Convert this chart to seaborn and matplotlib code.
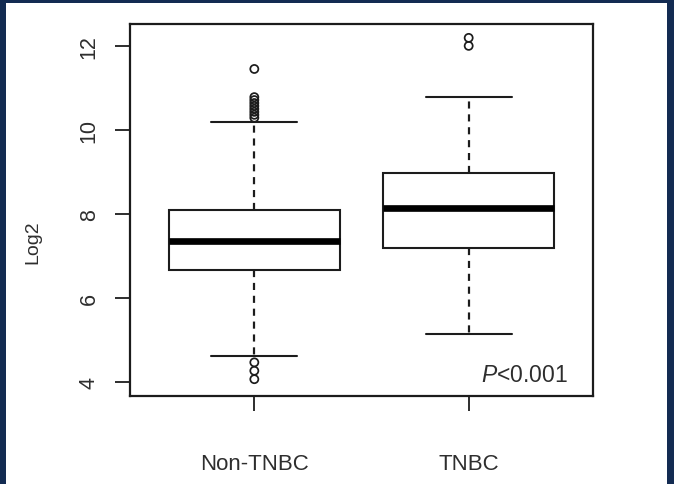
import matplotlib
matplotlib.use("Agg")
import matplotlib.pyplot as plt
import seaborn as sns
import pandas as pd
from matplotlib.patches import Rectangle

# ---- data ----
categories = ["Non-TNBC", "TNBC"]
# five-number summary per group: lower whisker, Q1, median, Q3, upper whisker
non_tnbc_summary = [4.62, 6.67, 7.36, 8.10, 10.19]
tnbc_summary = [5.14, 7.19, 8.14, 8.98, 10.79]
# outlying points
non_tnbc_outliers = [4.07, 4.27, 4.47, 10.29, 10.36, 10.43, 10.50,
                     10.57, 10.64, 10.71, 10.78, 11.45]
tnbc_outliers = [12.00, 12.19]
y_ticks = [4, 6, 8, 10, 12]
y_label = "Log2"
p_text = r"$\mathit{P}$<0.001"

# ---- tables ----
box_df = pd.DataFrame({
    "group": [categories[0]] * len(non_tnbc_summary) + [categories[1]] * len(tnbc_summary),
    "value": non_tnbc_summary + tnbc_summary,
})
out_df = pd.DataFrame({
    "group": [categories[0]] * len(non_tnbc_outliers) + [categories[1]] * len(tnbc_outliers),
    "value": non_tnbc_outliers + tnbc_outliers,
})

# ---- style ----
sns.set_theme(style="ticks")
plt.rcParams["font.family"] = ["Liberation Sans", "DejaVu Sans"]
plt.rcParams["mathtext.fontset"] = "custom"
plt.rcParams["mathtext.rm"] = "Liberation Sans"
plt.rcParams["mathtext.it"] = "Liberation Sans:italic"

navy = "#132b52"
line_c = "#1c1c1c"
text_c = "#2e2e2e"

W, H = 674, 485
fig = plt.figure(figsize=(W / 100, H / 100), dpi=100)
fig.patch.set_facecolor(navy)
fig.add_artist(Rectangle((6 / W, 0), (W - 6 - 7) / W, (H - 4) / H,
                         transform=fig.transFigure, facecolor="white",
                         edgecolor="none", zorder=-5))

ax = fig.add_axes([130 / W, (H - 397) / H, 463 / W, 372 / H])

sns.boxplot(data=box_df, x="group", y="value", order=categories,
            whis=(0, 100), width=0.8, color="white", linecolor=line_c,
            linewidth=1.5, showfliers=False, saturation=1,
            whiskerprops=dict(linestyle=(0, (3.2, 2.6)), linewidth=1.6),
            medianprops=dict(linewidth=4.8, color="#000000"),
            ax=ax)

sns.stripplot(data=out_df, x="group", y="value", order=categories,
              jitter=False, size=5.8, color="white", edgecolor=line_c,
              linewidth=1.2, ax=ax, zorder=5)
for coll in ax.collections:
    coll.set_facecolor("none")
    coll.set_edgecolor(line_c)
    coll.set_linewidth(1.25)

ax.set_xlim(-0.58, 1.58)
ax.set_ylim(3.67, 12.52)
ax.set_yticks(y_ticks)
ax.set_xlabel("")
ax.set_ylabel("")

for s in ax.spines.values():
    s.set_visible(True)
    s.set_linewidth(1.6)
    s.set_color(line_c)

ax.tick_params(axis="both", direction="out", length=10.8, width=1.3,
               color=line_c, labelcolor=text_c)
ax.tick_params(axis="y", labelsize=15.5, pad=11, labelrotation=90)
ax.tick_params(axis="x", labelsize=16, pad=30)
for lbl in ax.get_yticklabels():
    lbl.set_va("center")

ax.text(0.946, 0.040, p_text, transform=ax.transAxes, ha="right",
        va="baseline", fontsize=16.5, color=text_c)

fig.text(33 / W, 1 - 242 / H, y_label, rotation=90, ha="center",
         va="center", fontsize=14, color=text_c)

fig.savefig("out.png", dpi=100, facecolor=fig.get_facecolor())
